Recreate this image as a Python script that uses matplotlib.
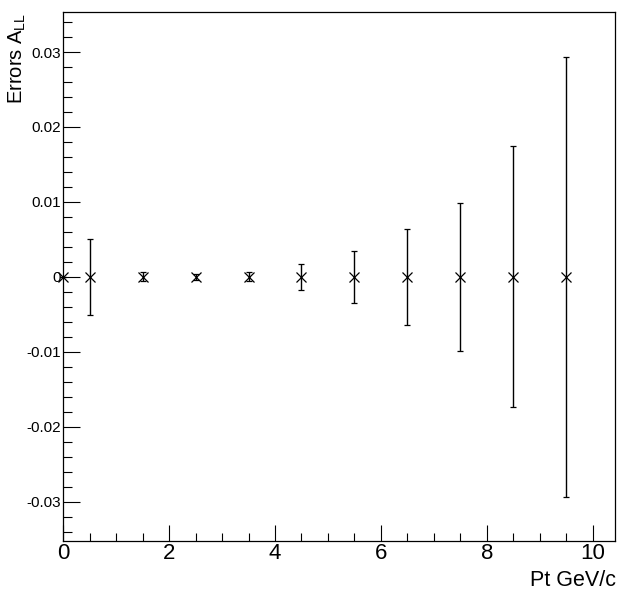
#!/usr/bin/env python3
# -*- coding: utf-8 -*-
'''
Plot the statistical errors of A_LL versus Pt (ROOT-like style)
'''

import numpy as np
import matplotlib
matplotlib.use('Agg')
import matplotlib.pyplot as plt
from matplotlib.ticker import MultipleLocator


# data
pt = [0.0, 0.5, 1.5, 2.5, 3.5, 4.5, 5.5, 6.5, 7.5, 8.5, 9.5]
all_val = [0, 0, 0, 0, 0, 0, 0, 0, 0, 0, 0]
all_err = [0.0, 0.0051, 0.0006, 0.0004, 0.0006, 0.0017, 0.0035, 0.0064, 0.0099, 0.0174, 0.0294]

xlim = (0, 10.43)
ylim = (-0.0353, 0.0353)


def _main():
    plt.rcParams['font.family'] = ['Liberation Sans', 'DejaVu Sans']
    plt.rcParams['mathtext.fontset'] = 'custom'
    plt.rcParams['mathtext.rm'] = 'Liberation Sans'
    plt.rcParams['mathtext.it'] = 'Liberation Sans'

    fig = plt.figure(figsize=(6.36, 5.97), dpi=100)
    ax = fig.add_axes([0.0995, 0.0933, 0.868, 0.8861])

    ax.errorbar(pt, all_val, yerr=all_err, fmt='x', color='black',
                markersize=7, markeredgewidth=0.9, elinewidth=1.0,
                capsize=2.3, capthick=1.0, clip_on=False)

    ax.set_xlim(*xlim)
    ax.set_ylim(*ylim)

    # ticks like ROOT: inside, only bottom/left
    ax.xaxis.set_major_locator(MultipleLocator(2))
    ax.xaxis.set_minor_locator(MultipleLocator(0.5))
    ax.yaxis.set_major_locator(MultipleLocator(0.01))
    ax.yaxis.set_minor_locator(MultipleLocator(0.002))
    ax.yaxis.set_major_formatter(
        matplotlib.ticker.FuncFormatter(lambda v, p: '0' if abs(v) < 1e-9 else '{:.2f}'.format(v)))

    ax.tick_params(axis='x', which='major', direction='in', length=11.7, width=0.8,
                   labelsize=16, pad=1)
    ax.tick_params(axis='x', which='minor', direction='in', length=6, width=0.8)
    ax.tick_params(axis='y', which='major', direction='in', length=12, width=0.8,
                   labelsize=11, pad=1.5)
    ax.tick_params(axis='y', which='minor', direction='in', length=6.7, width=0.8)
    ax.tick_params(top=False, right=False, which='both')

    for sp in ax.spines.values():
        sp.set_linewidth(0.9)

    fig.text(615.5 / 636, 1 - 586 / 597, 'Pt GeV/c', ha='right', va='baseline', fontsize=15.5)
    fig.text(17 / 636, 1 - 12.5 / 597, r'Errors A$_{\mathrm{LL}}$', rotation=90,
             ha='center', va='top', fontsize=14.5)

    fig.savefig('out.png', dpi=100, facecolor='white')
    plt.close()


if __name__ == "__main__":
    _main()
